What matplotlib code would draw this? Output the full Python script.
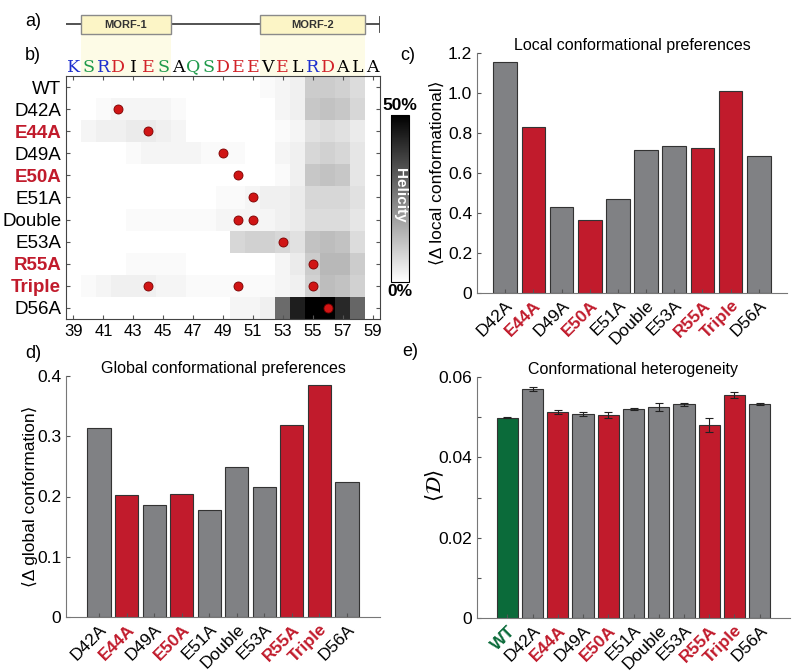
import numpy as np
import matplotlib
matplotlib.use('Agg')
import matplotlib.pyplot as plt
from matplotlib.patches import Rectangle

plt.rcParams['font.family'] = ['Liberation Sans', 'DejaVu Sans']

# ---- data ----
residues = list(range(39, 60))
sequence = list('KSRDIESAQSDEEVELRDALA')
morf_regions = [('MORF-1', 39.5, 45.5), ('MORF-2', 51.5, 58.5)]

variants = ['WT', 'D42A', 'E44A', 'D49A', 'E50A', 'E51A', 'Double',
            'E53A', 'R55A', 'Triple', 'D56A']
mut_sites = [[], [42], [44], [49], [50], [51], [50, 51], [53], [55],
             [44, 50, 55], [56]]
highlight = ['E44A', 'E50A', 'R55A', 'Triple']

# helicity (%) per residue 39..59
helicity = [
    [0, 0, 0, 0, 0, 0, 0, 0, 0, 0, 0, 0, 0, 1, 2, 3, 10, 10, 9, 7, 0],
    [0, 0, 1, 2, 2, 2, 2, 1, 0, 0, 0, 0, 0, 0, 2, 3, 11, 12, 11, 8, 0],
    [0, 2, 3, 3, 4, 4, 3, 2, 0, 0, 0, 0, 0, 0, 1, 2, 6, 7, 6, 4, 0],
    [0, 0, 0, 0, 1, 2, 2, 2, 2, 1, 1, 1, 0, 0, 2, 3, 8, 9, 8, 5, 0],
    [0, 0, 0, 0, 0, 0, 0, 0, 0, 0, 0, 0, 0, 0, 1, 3, 11, 12, 11, 5, 0],
    [0, 0, 0, 0, 0, 0, 0, 0, 0, 0, 1, 1, 2, 3, 3, 4, 8, 8, 8, 6, 0],
    [0, 0, 0, 0, 1, 1, 1, 1, 1, 1, 2, 2, 2, 2, 3, 4, 7, 7, 7, 5, 0],
    [0, 0, 0, 0, 0, 0, 0, 0, 0, 0, 0, 8, 9, 9, 8, 6, 12, 13, 12, 7, 0],
    [0, 0, 0, 0, 1, 1, 1, 1, 0, 0, 0, 0, 0, 0, 2, 4, 10, 14, 14, 10, 0],
    [0, 1, 2, 3, 3, 3, 2, 2, 1, 1, 1, 1, 1, 1, 2, 3, 9, 13, 12, 9, 0],
    [0, 0, 0, 0, 0, 0, 0, 0, 0, 0, 0, 2, 2, 3, 29, 44, 50, 50, 42, 30, 0],
]

mutants = variants[1:]
local_pref = [1.157, 0.83, 0.428, 0.367, 0.472, 0.713, 0.733, 0.725, 1.008, 0.683]
global_pref = [0.314, 0.202, 0.186, 0.204, 0.177, 0.249, 0.215, 0.319, 0.385, 0.224]
heterogeneity = [0.0499, 0.0570, 0.0512, 0.0507, 0.0506, 0.0521, 0.0525,
                 0.0532, 0.0481, 0.0555, 0.0533]
heterogeneity_err = [0.0002, 0.0005, 0.0005, 0.0005, 0.0008, 0.0002, 0.0010,
                     0.0003, 0.0017, 0.0007, 0.0003]

RED = '#c11b2c'
GRAY = '#808184'
GREEN = '#0b6b3a'
aa_colors = {'K': '#1d2fcf', 'R': '#1d2fcf', 'D': '#d2232a', 'E': '#d2232a',
             'S': '#1f9a4b', 'Q': '#1f9a4b'}

W, H = 800, 671
fig = plt.figure(figsize=(W / 100, H / 100), dpi=100)


def box(l, t, r, b):
    return [l / W, 1 - b / H, (r - l) / W, (b - t) / H]


def label_style(name):
    if name in highlight:
        return RED, 'bold'
    if name == 'WT':
        return GREEN, 'bold'
    return 'black', 'normal'


# ---- panel a + sequence ----
ax_a = fig.add_axes(box(66, 0, 380, 76))
ax_a.set_xlim(residues[0] - 0.5, residues[-1] + 0.5)
ax_a.set_ylim(76, 0)
ax_a.axis('off')
ax_a.plot([residues[0] - 0.5, residues[-1] + 0.5], [24, 24], color='#444', lw=1.3)
ax_a.plot([residues[-1] + 0.5] * 2, [17, 32], color='#444', lw=1.3)
for name, s, e in morf_regions:
    ax_a.add_patch(Rectangle((s, 34), e - s, 42, fc='#fdfbe6', ec='none', zorder=0))
    ax_a.add_patch(Rectangle((s, 15), e - s, 19, fc='#fcf5c6', ec='#8a8a8a', lw=1, zorder=3))
    ax_a.text((s + e) / 2, 25, name, ha='center', va='center', fontsize=8,
              fontweight='bold', color='#333', zorder=4)
for r, aa in zip(residues, sequence):
    ax_a.text(r, 67, aa, ha='center', va='center', fontsize=12.5,
              family='DejaVu Serif', color=aa_colors.get(aa, 'black'))

# ---- panel b heatmap ----
ax_b = fig.add_axes(box(66, 76, 380, 319))
xe = np.arange(residues[0] - 0.5, residues[-1] + 1)
ye = np.arange(len(variants) + 1) - 0.5
mesh = ax_b.pcolormesh(xe, ye, np.array(helicity), cmap='gray_r', vmin=0, vmax=50)
ax_b.set_ylim(len(variants) - 0.5, -0.5)
for i, sites in enumerate(mut_sites):
    ax_b.plot(sites, [i] * len(sites), 'o', color='#d01515', mec='#7a0000',
              mew=0.6, ms=6.5)
ax_b.set_xticks(residues[::2])
ax_b.set_yticks(range(len(variants)))
ax_b.set_yticklabels(variants, fontsize=13.5)
for t, name in zip(ax_b.get_yticklabels(), variants):
    c, w = label_style(name)
    if name == 'WT':
        c, w = 'black', 'normal'
    t.set_color(c)
    t.set_fontweight(w)
ax_b.tick_params(axis='x', labelsize=12)
ax_b.tick_params(direction='in', top=True, right=True, length=3, color='#555')
for sp in ax_b.spines.values():
    sp.set_color('#444')

cax = fig.add_axes(box(391, 115, 409, 282))
cb = fig.colorbar(mesh, cax=cax)
cb.set_ticks([])
cb.outline.set_linewidth(0.8)
cax.text(0.5, 1.01, '50%', transform=cax.transAxes, ha='center', va='bottom',
         fontsize=12.5, fontweight='bold')
cax.text(0.5, -0.01, '0%', transform=cax.transAxes, ha='center', va='top',
         fontsize=12.5, fontweight='bold')
cax.text(0.5, 0.52, 'Helicity', transform=cax.transAxes, ha='center', va='center',
         rotation=-90, color='white', fontsize=11, fontweight='bold')


# ---- bar panels ----
def bar_panel(ax, names, values, title, err=None):
    x = np.arange(1, len(names) + 1)
    colors = [RED if n in highlight else (GREEN if n == 'WT' else GRAY) for n in names]
    ax.bar(x, values, width=0.84, color=colors, edgecolor='#333333', linewidth=0.8,
           yerr=err, capsize=3 if err is not None else 0,
           error_kw=dict(ecolor='#222', elinewidth=0.8, capthick=0.8))
    ax.set_xticks(x)
    ax.set_xticklabels(names, rotation=45, ha='right', rotation_mode='anchor',
                       fontsize=12.5)
    for t, n in zip(ax.get_xticklabels(), names):
        c, w = label_style(n)
        t.set_color(c)
        t.set_fontweight(w)
    for sp in ['top', 'right']:
        ax.spines[sp].set_visible(False)
    for sp in ['left', 'bottom']:
        ax.spines[sp].set_color('#777')
    ax.tick_params(direction='in', length=3, color='#555', labelsize=12.5)
    ax.set_title(title, fontsize=11.5, pad=2)


ax_c = fig.add_axes(box(477, 53, 787, 293))
bar_panel(ax_c, mutants, local_pref, 'Local conformational preferences')
ax_c.set_xlim(0, 11)
ax_c.set_ylim(0, 1.2)
ax_c.set_yticks(np.arange(0, 1.21, 0.2))
ax_c.set_yticklabels(['0', '0.2', '0.4', '0.6', '0.8', '1.0', '1.2'])
ax_c.set_ylabel('\u27e8\u0394 local conformational\u27e9', fontsize=12.5)
ax_c.yaxis.set_label_coords(-0.105, 0.5)

ax_d = fig.add_axes(box(66, 376, 380, 617))
bar_panel(ax_d, mutants, global_pref, 'Global conformational preferences')
ax_d.set_xlim(-0.2, 11.2)
ax_d.set_ylim(0, 0.4)
ax_d.set_yticks([0, 0.1, 0.2, 0.3, 0.4])
ax_d.set_yticklabels(['0', '0.1', '0.2', '0.3', '0.4'])
ax_d.set_ylabel('\u27e8\u0394 global conformation\u27e9', fontsize=12.5)
ax_d.yaxis.set_label_coords(-0.09, 0.5)

ax_e = fig.add_axes(box(477, 377, 790, 618))
bar_panel(ax_e, variants, heterogeneity, 'Conformational heterogeneity',
          err=heterogeneity_err)
ax_e.set_xlim(-0.2, 12.2)
ax_e.set_ylim(0, 0.06)
ax_e.set_yticks([0, 0.01, 0.02, 0.03, 0.04, 0.05, 0.06])
ax_e.set_yticklabels(['0', '', '0.02', '', '0.04', '', '0.06'])
ax_e.set_ylabel(r'$\langle\mathcal{D}\rangle$', fontsize=15)
ax_e.yaxis.set_label_coords(-0.1, 0.55)

# panel letters
for lab, px, py in [('a)', 33, 22), ('b)', 33, 55), ('c)', 408, 55),
                    ('d)', 33, 354), ('e)', 410, 352)]:
    fig.text(px / W, 1 - py / H, lab, ha='center', va='center', fontsize=13)

fig.savefig('out.png', dpi=100)
